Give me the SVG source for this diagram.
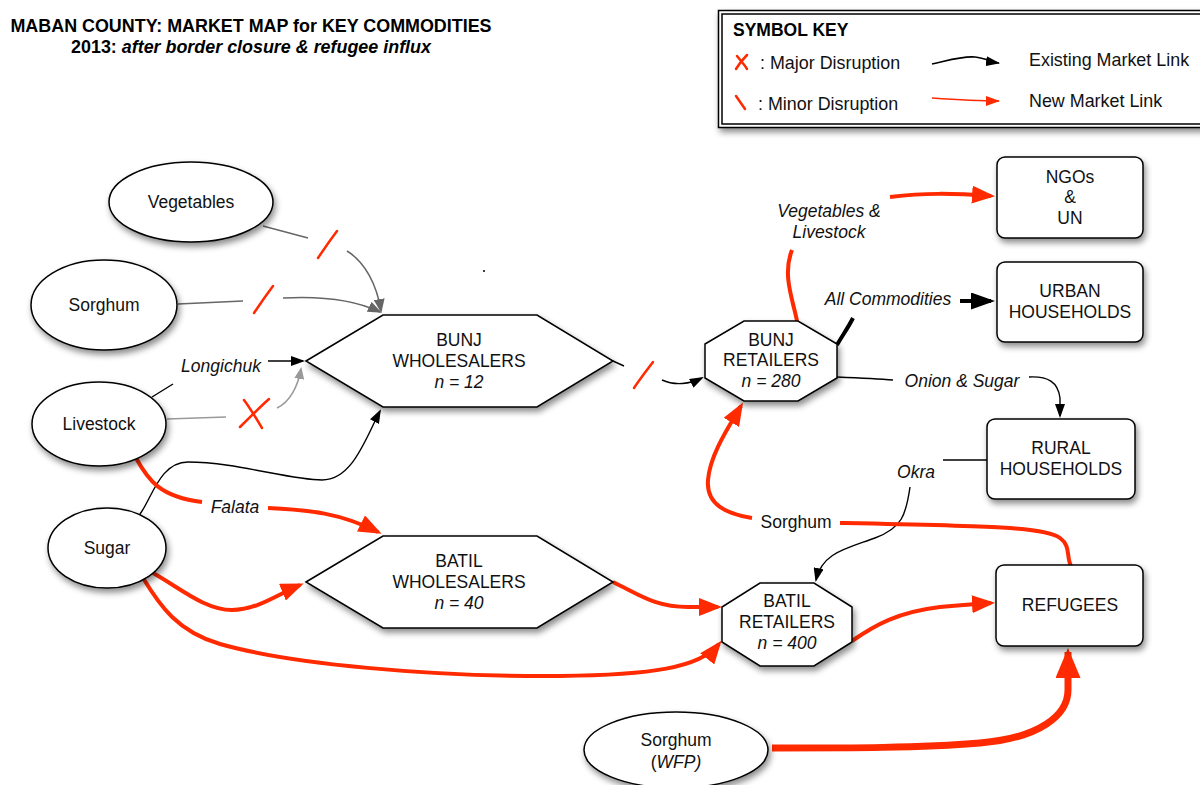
<svg xmlns="http://www.w3.org/2000/svg" width="1200" height="785" viewBox="0 0 1200 785">
  <defs>
    <filter id="sh" x="-20%" y="-20%" width="150%" height="160%">
      <feDropShadow dx="2" dy="4" stdDeviation="3" flood-color="#000" flood-opacity="0.45"/>
    </filter>
    <marker id="mBlack" markerUnits="userSpaceOnUse" markerWidth="14" markerHeight="10" viewBox="0 0 14 10" refX="12" refY="5" orient="auto">
      <path d="M0,0 L14,5 L0,10 z" fill="#000"/>
    </marker>
    <marker id="mBlackBig" markerUnits="userSpaceOnUse" markerWidth="24" markerHeight="17" viewBox="0 0 24 17" refX="20" refY="8.5" orient="auto">
      <path d="M0,0 L24,8.5 L0,17 z" fill="#000"/>
    </marker>
    <marker id="mGray" markerUnits="userSpaceOnUse" markerWidth="14" markerHeight="11" viewBox="0 0 14 11" refX="12" refY="5.5" orient="auto">
      <path d="M0,0 L14,5.5 L0,11 z" fill="#666"/>
    </marker>
    <marker id="mLight" markerUnits="userSpaceOnUse" markerWidth="12" markerHeight="10" viewBox="0 0 12 10" refX="10" refY="5" orient="auto">
      <path d="M0,0 L12,5 L0,10 z" fill="#999"/>
    </marker>
    <marker id="mRed" markerUnits="userSpaceOnUse" markerWidth="23" markerHeight="18" viewBox="0 0 23 18" refX="19" refY="9" orient="auto">
      <path d="M0,0 L23,9 L0,18 z" fill="#ff2a00"/>
    </marker>
    <marker id="mRedBig" markerUnits="userSpaceOnUse" markerWidth="30" markerHeight="25" viewBox="0 0 30 25" refX="26" refY="12.5" orient="auto">
      <path d="M0,0 L30,12.5 L0,25 z" fill="#ff2a00"/>
    </marker>
    <marker id="mKeyBlack" markerUnits="userSpaceOnUse" markerWidth="14" markerHeight="10" viewBox="0 0 14 10" refX="13" refY="5" orient="auto">
      <path d="M0,0 L14,5 L0,10 z" fill="#000"/>
    </marker>
    <marker id="mKeyRed" markerUnits="userSpaceOnUse" markerWidth="14" markerHeight="10" viewBox="0 0 14 10" refX="13" refY="5" orient="auto">
      <path d="M0,0 L14,5 L0,10 z" fill="#ff2a00"/>
    </marker>
  </defs>
  <style>
    .shape { fill:#fff; stroke:#000; stroke-width:1.5; filter:url(#sh); }
    .t { font-family:"Liberation Sans", Arial, Helvetica, sans-serif; font-size:17.5px; text-anchor:middle; fill:#111; }
    .it { font-style:italic; }
    .lbl { font-family:"Liberation Sans", Arial, Helvetica, sans-serif; font-size:17.5px; font-style:italic; text-anchor:middle; fill:#111; }
    .plain { font-family:"Liberation Sans", Arial, Helvetica, sans-serif; font-size:17.5px; text-anchor:middle; fill:#111; }
    .key { font-family:"Liberation Sans", Arial, Helvetica, sans-serif; font-size:17.9px; fill:#111; }
    .gray { fill:none; stroke:#666; stroke-width:1.5; }
    .light { fill:none; stroke:#999; stroke-width:1.5; }
    .blk { fill:none; stroke:#000; stroke-width:1.4; }
    .blkThick { fill:none; stroke:#000; stroke-width:4; }
    .red { fill:none; stroke:#ff2a00; stroke-width:4; }
    .redBig { fill:none; stroke:#ff2a00; stroke-width:7; }
    .mark { fill:none; stroke:#ff2a00; stroke-width:2.5; stroke-linecap:round; }
  </style>

  <rect width="1200" height="785" fill="#fff"/>

  <!-- title -->
  <g id="title" font-family="Liberation Sans, Arial, Helvetica, sans-serif" font-weight="bold" font-size="17.9" text-anchor="middle" fill="#000">
    <text x="251" y="32">MABAN COUNTY: MARKET MAP for KEY COMMODITIES</text>
    <text x="251" y="53">2013: <tspan font-style="italic">after border closure &amp; refugee influx</tspan></text>
  </g>

  <!-- symbol key -->
  <g id="symbol-key">
    <rect x="718.5" y="10.5" width="500" height="117" fill="#fff" stroke="#000" stroke-width="1.5" filter="url(#sh)"/>
    <rect x="722" y="14" width="500" height="110" fill="none" stroke="#000" stroke-width="1.5"/>
    <text x="733" y="36" font-family="Liberation Sans, Arial, Helvetica, sans-serif" font-weight="bold" font-size="17.5" fill="#000">SYMBOL KEY</text>
    <path class="mark" d="M737,56 C740,60 744,64 747,69 M747,55 C743,59 739,64 736,69" stroke-width="2"/>
    <text class="key" x="760" y="69">: Major Disruption</text>
    <path d="M932,64 C950,60 962,56 975,57 C985,58 992,62 999,63" fill="none" stroke="#000" stroke-width="1.6" marker-end="url(#mKeyBlack)"/>
    <text class="key" x="1029" y="66">Existing Market Link</text>
    <path class="mark" d="M736,96 L745,109" stroke-width="2"/>
    <text class="key" x="758" y="110">: Minor Disruption</text>
    <path d="M932,98 C960,100 980,101 999,101" fill="none" stroke="#ff2a00" stroke-width="1.6" marker-end="url(#mKeyRed)"/>
    <text class="key" x="1029" y="107">New Market Link</text>
  </g>

  <!-- connectors -->
  <g id="connectors">
    <!-- Vegetables to Bunj wholesalers (minor disruption) -->
    <path class="gray" d="M263,226 L308,238"/>
    <path class="gray" d="M347,251 C365,262 377,285 381,311" marker-end="url(#mGray)"/>
    <path class="mark" d="M318,258 C324,249 331,239 337,231"/>
    <!-- Sorghum to Bunj wholesalers (minor disruption) -->
    <path class="gray" d="M178,304 L243,301"/>
    <path class="gray" d="M283,298 C320,296 355,300 380,312" marker-end="url(#mGray)"/>
    <path class="mark" d="M254,313 C260,304 267,294 273,286"/>
    <!-- Livestock to Bunj wholesalers via Longichuk -->
    <path class="blk" d="M152,397 L173,384"/>
    <text class="lbl" x="221" y="372">Longichuk</text>
    <path class="blk" d="M268,361 L303,361" marker-end="url(#mBlack)"/>
    <!-- Livestock to Bunj wholesalers (major disruption) -->
    <path class="light" d="M167,419 L226,417"/>
    <path class="light" d="M277,408 C290,402 298,386 301,369" marker-end="url(#mLight)"/>
    <path class="mark" d="M244,400 C250,408 256,418 262,428 M269,399 C260,407 249,418 240,427" stroke-width="3"/>
    <!-- Sugar to Bunj wholesalers -->
    <path class="blk" d="M140,514 C152,498 160,462 188,462 C235,462 290,480 322,480 C352,480 365,440 380,411" marker-end="url(#mBlack)"/>
    <!-- Livestock to Batil wholesalers via Falata -->
    <path class="red" d="M136,458 C148,480 160,497 202,502"/>
    <text class="lbl" x="235" y="513">Falata</text>
    <path class="red" d="M268,508 C310,510 340,513 378,532" marker-end="url(#mRed)"/>
    <!-- Sugar to Batil wholesalers -->
    <path class="red" d="M153,573 C180,588 205,610 232,610 C257,610 278,594 300,585" marker-end="url(#mRed)"/>
    <!-- Sugar to Batil retailers -->
    <path class="red" d="M143,578 C160,606 178,632 220,644 C290,664 430,677 560,676 C650,675 700,668 719,644" marker-end="url(#mRed)"/>
    <!-- Batil wholesalers to Batil retailers -->
    <path class="red" d="M613,582 C640,595 655,607 688,607 L718,607" marker-end="url(#mRed)"/>
    <!-- Bunj wholesalers to Bunj retailers (minor disruption) -->
    <path class="blk" d="M613,361 L624,366"/>
    <path class="blk" d="M662,380 C675,386 690,384 702,378" marker-end="url(#mBlack)"/>
    <path class="mark" d="M634,388 C640,379 647,370 653,362"/>
    <!-- Bunj retailers to NGOs & UN -->
    <path class="red" d="M797,321 C793,300 782,275 792,250"/>
    <text class="lbl" x="829" y="217">Vegetables &amp;</text>
    <text class="lbl" x="829" y="238">Livestock</text>
    <path class="red" d="M890,197 C925,193 950,193 991,196" marker-end="url(#mRed)"/>
    <!-- Bunj retailers to urban households -->
    <path class="blkThick" d="M837,345 C842,336 848,328 853,318"/>
    <text class="lbl" x="888" y="305">All Commodities</text>
    <path class="blkThick" d="M960,301 L991,301" marker-end="url(#mBlackBig)"/>
    <!-- Bunj retailers to rural households -->
    <path class="blk" d="M837,377 C860,378 880,379 893,380"/>
    <text class="lbl" x="962" y="387">Onion &amp; Sugar</text>
    <path class="blk" d="M1029,377 C1048,376 1058,382 1060,398 L1060,416" marker-end="url(#mBlack)"/>
    <!-- Rural households to Batil retailers -->
    <path class="blk" d="M987,460 L943,460"/>
    <text class="lbl" x="916" y="478">Okra</text>
    <path class="blk" d="M910,487 C906,515 902,528 875,538 C845,549 822,553 816,580" marker-end="url(#mBlack)"/>
    <!-- Refugees to Bunj retailers -->
    <path class="red" d="M1071,566 C1066,556 1071,546 1060,538 C1045,527 990,526 840,523"/>
    <text class="plain" x="796" y="528">Sorghum</text>
    <path class="red" d="M752,518 C727,514 706,505 708,480 C710,455 728,428 741,406" marker-end="url(#mRed)"/>
    <!-- Batil retailers to refugees -->
    <path class="red" d="M852,641 C875,625 898,612 940,607 C960,605 975,604 991,603" marker-end="url(#mRed)"/>
    <!-- Sorghum (WFP) to refugees -->
    <path class="redBig" d="M772,748 C850,748 920,748 980,743 C1040,738 1068,715 1068,690 L1068,652" marker-end="url(#mRedBig)"/>
  </g>

  <!-- stray mark -->
  <circle cx="484" cy="271" r="1" fill="#000"/>

  <!-- commodity sources -->
  <g id="vegetables">
    <ellipse class="shape" cx="191" cy="202" rx="82" ry="40"/>
    <text class="t" x="191" y="208">Vegetables</text>
  </g>
  <g id="sorghum">
    <ellipse class="shape" cx="104" cy="305" rx="73" ry="45"/>
    <text class="t" x="104" y="311">Sorghum</text>
  </g>
  <g id="livestock">
    <ellipse class="shape" cx="99" cy="424" rx="67" ry="42"/>
    <text class="t" x="99" y="430">Livestock</text>
  </g>
  <g id="sugar">
    <ellipse class="shape" cx="107" cy="548" rx="59" ry="40"/>
    <text class="t" x="107" y="554">Sugar</text>
  </g>
  <g id="sorghum-wfp">
    <ellipse class="shape" cx="676" cy="750" rx="92" ry="38"/>
    <text class="t" x="676" y="746">Sorghum</text>
    <text class="t" x="676" y="768">(<tspan class="it">WFP)</tspan></text>
  </g>

  <!-- wholesalers -->
  <g id="bunj-wholesalers">
    <polygon class="shape" points="306,361 383,315 537,315 613,361 537,407 383,407"/>
    <text class="t" x="459" y="346">BUNJ</text>
    <text class="t" x="459" y="367">WHOLESALERS</text>
    <text class="t it" x="459" y="388">n = 12</text>
  </g>
  <g id="batil-wholesalers">
    <polygon class="shape" points="306,582 383,536 537,536 613,582 537,628 383,628"/>
    <text class="t" x="459" y="567">BATIL</text>
    <text class="t" x="459" y="588">WHOLESALERS</text>
    <text class="t it" x="459" y="609">n = 40</text>
  </g>

  <!-- retailers -->
  <g id="bunj-retailers">
    <polygon class="shape" points="744,321 798,321 837,344 837,378 798,401 744,401 705,378 705,344"/>
    <text class="t" x="771" y="346">BUNJ</text>
    <text class="t" x="771" y="366">RETAILERS</text>
    <text class="t it" x="771" y="387">n = 280</text>
  </g>
  <g id="batil-retailers">
    <polygon class="shape" points="760,583 814,583 852,607 852,642 814,666 760,666 722,642 722,607"/>
    <text class="t" x="787" y="607">BATIL</text>
    <text class="t" x="787" y="628">RETAILERS</text>
    <text class="t it" x="787" y="649">n = 400</text>
  </g>

  <!-- consumers -->
  <g id="ngos-un">
    <rect class="shape" x="997" y="157" width="146" height="81" rx="8"/>
    <text class="t" x="1070" y="183">NGOs</text>
    <text class="t" x="1070" y="203">&amp;</text>
    <text class="t" x="1070" y="224">UN</text>
  </g>
  <g id="urban-households">
    <rect class="shape" x="997" y="262" width="146" height="80" rx="8"/>
    <text class="t" x="1070" y="297">URBAN</text>
    <text class="t" x="1070" y="318">HOUSEHOLDS</text>
  </g>
  <g id="rural-households">
    <rect class="shape" x="987" y="419" width="148" height="80" rx="8"/>
    <text class="t" x="1061" y="454">RURAL</text>
    <text class="t" x="1061" y="475">HOUSEHOLDS</text>
  </g>
  <g id="refugees">
    <rect class="shape" x="996" y="565" width="147" height="81" rx="8"/>
    <text class="t" x="1070" y="611">REFUGEES</text>
  </g>
</svg>
